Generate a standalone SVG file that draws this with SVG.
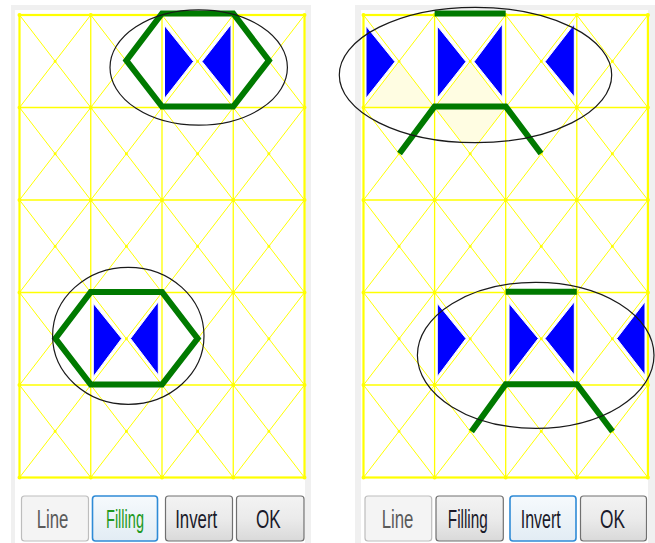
<svg xmlns="http://www.w3.org/2000/svg" xmlns:xlink="http://www.w3.org/1999/xlink" width="655" height="543" viewBox="0 0 655 543">
<style>
.frame{fill:#f0f0f0}
.inner{fill:#ffffff}
.grid{fill:none;stroke:#ffff00;stroke-width:1.3}
.diag{fill:none;stroke:#ffff00;stroke-width:1}
.border{fill:none;stroke:#ffff00;stroke-width:2.2}
.dotc{fill:none;stroke:#ffff00;stroke-width:4;stroke-linecap:round}
.dotm{fill:none;stroke:#ffff00;stroke-width:3;stroke-linecap:round}
.tri{fill:#0000ff;stroke:#ffffff;stroke-width:1}
.green{fill:none;stroke:#007a00;stroke-width:6;stroke-linejoin:miter}
.ell{fill:none;stroke:#1a1a1a;stroke-width:1.2}
.soft{fill:#fffde2}
.btn{fill:url(#gBtn);stroke:#707070;stroke-width:1.2}
.btnoff{fill:#f4f4f4;stroke:#bdbdbd;stroke-width:1.2}
.btnon{fill:url(#gOn);stroke:#2f8bd6;stroke-width:1.6}
.lbl{font-family:"Liberation Sans",Arial,sans-serif;font-size:25px;text-anchor:middle;fill:#1a1a2a}
.lbloff{fill:#5a5a5a}
.lblgreen{fill:#1f9a1f}
</style>
<defs>
<linearGradient id="gBtn" x1="0" y1="0" x2="0" y2="1">
<stop offset="0" stop-color="#f3f3f3"/><stop offset="0.5" stop-color="#ebebeb"/><stop offset="1" stop-color="#d9d9d9"/>
</linearGradient>
<linearGradient id="gOn" x1="0" y1="0" x2="0" y2="1">
<stop offset="0" stop-color="#f6fafd"/><stop offset="1" stop-color="#e2ecf4"/>
</linearGradient>
<clipPath id="clipRT"><ellipse cx="475.5" cy="75" rx="136.2" ry="67.7"/></clipPath>
<path id="diagL" class="diag" d="M19.5 15L90.75 107.5M90.75 15L19.5 107.5M90.75 15L162 107.5M162 15L90.75 107.5M162 15L233.25 107.5M233.25 15L162 107.5M233.25 15L304.5 107.5M304.5 15L233.25 107.5"/>
<path id="diagR" class="diag" d="M363.5 15L434.6 107.5M434.6 15L363.5 107.5M434.6 15L505.7 107.5M505.7 15L434.6 107.5M505.7 15L576.8 107.5M576.8 15L505.7 107.5M576.8 15L647.9 107.5M647.9 15L576.8 107.5"/>
<path id="dotsCL" class="dotc" d="M19.5 15h0M90.75 15h0M162 15h0M233.25 15h0M304.5 15h0"/>
<path id="dotsML" class="dotm" d="M55.1 61.25h0M126.4 61.25h0M197.6 61.25h0M268.9 61.25h0"/>
<path id="dotsCR" class="dotc" d="M363.5 15h0M434.6 15h0M505.7 15h0M576.8 15h0M647.9 15h0"/>
<path id="dotsMR" class="dotm" d="M399.05 61.25h0M470.15 61.25h0M541.25 61.25h0M612.35 61.25h0"/>
</defs>
<rect x="0" y="0" width="655" height="543" fill="#ffffff"/>

<g id="panel-left">
<rect class="frame" x="11" y="5" width="300" height="538"/>
<rect class="inner" x="15" y="10" width="290" height="533"/>
<g id="grid-left">
<path class="grid" d="M90.75 15V477.5M162 15V477.5M233.25 15V477.5M19.5 107.5H304.5M19.5 200H304.5M19.5 292.5H304.5M19.5 385H304.5"/>
<use href="#diagL"/>
<use href="#diagL" transform="translate(0,92.5)"/>
<use href="#diagL" transform="translate(0,185)"/>
<use href="#diagL" transform="translate(0,277.5)"/>
<use href="#diagL" transform="translate(0,370)"/>
<rect class="border" x="19.5" y="15" width="285" height="462.5"/>
<use href="#dotsCL"/>
<use href="#dotsCL" transform="translate(0,92.5)"/>
<use href="#dotsCL" transform="translate(0,185)"/>
<use href="#dotsCL" transform="translate(0,277.5)"/>
<use href="#dotsCL" transform="translate(0,370)"/>
<use href="#dotsCL" transform="translate(0,462.5)"/>
<use href="#dotsML"/>
<use href="#dotsML" transform="translate(0,92.5)"/>
<use href="#dotsML" transform="translate(0,185)"/>
<use href="#dotsML" transform="translate(0,277.5)"/>
<use href="#dotsML" transform="translate(0,370)"/>
</g>
<g id="shape-left-top">
<polygon class="tri" points="164.5,25.5 164.5,98.5 193.5,61.5"/>
<polygon class="tri" points="231,24.5 231,97.5 202,61.5"/>
<polygon class="green" points="162,13.5 233.25,13.5 268.9,60.5 233.25,106.5 162,106.5 126.4,60.5"/>
<ellipse class="ell" cx="198.7" cy="67.5" rx="88.7" ry="57.7"/>
</g>
<g id="shape-left-bottom">
<polygon class="tri" points="93.3,303.3 93.3,376.7 121.7,338.5"/>
<polygon class="tri" points="158.3,301.7 158.3,375 130.5,338.5"/>
<polygon class="green" points="90.75,292 162,292 197.6,338.5 162,384.5 90.75,384.5 55.4,338.5"/>
<ellipse class="ell" cx="128.3" cy="335.8" rx="75.7" ry="68.5"/>
</g>
<g id="buttons-left">
<g id="btn-left-line"><rect class="btnoff" x="21.5" y="496" width="67" height="45" rx="3"/><text class="lbl lbloff" x="52.5" y="528" textLength="31.7" lengthAdjust="spacingAndGlyphs">Line</text></g>
<g id="btn-left-filling"><rect class="btnon" x="92.5" y="496" width="65" height="45" rx="3"/><text class="lbl lblgreen" x="125" y="528" textLength="38" lengthAdjust="spacingAndGlyphs">Filling</text></g>
<g id="btn-left-invert"><rect class="btn" x="165.5" y="496" width="67" height="45" rx="3"/><text class="lbl" x="196.2" y="528" textLength="42" lengthAdjust="spacingAndGlyphs">Invert</text></g>
<g id="btn-left-ok"><rect class="btn" x="236.5" y="496" width="67.5" height="45" rx="3"/><text class="lbl" x="268.3" y="528" textLength="24.7" lengthAdjust="spacingAndGlyphs">OK</text></g>
</g>
</g>

<g id="panel-right">
<rect class="frame" x="355" y="5" width="300" height="538"/>
<rect class="inner" x="361" y="10" width="287" height="533"/>
<g id="soft-fill" clip-path="url(#clipRT)">
<polygon class="soft" points="399.05,61.25 363.5,107.5 434.6,107.5"/>
<polygon class="soft" points="470.15,61.25 434.6,107.5 505.7,107.5"/>
<polygon class="soft" points="434.6,107.5 505.7,107.5 470.15,153.75"/>
</g>
<g id="grid-right">
<path class="grid" d="M434.6 15V477.5M505.7 15V477.5M576.8 15V477.5M363.5 107.5H647.9M363.5 200H647.9M363.5 292.5H647.9M363.5 385H647.9"/>
<use href="#diagR"/>
<use href="#diagR" transform="translate(0,92.5)"/>
<use href="#diagR" transform="translate(0,185)"/>
<use href="#diagR" transform="translate(0,277.5)"/>
<use href="#diagR" transform="translate(0,370)"/>
<rect class="border" x="363.5" y="15" width="284.4" height="462.5"/>
<use href="#dotsCR"/>
<use href="#dotsCR" transform="translate(0,92.5)"/>
<use href="#dotsCR" transform="translate(0,185)"/>
<use href="#dotsCR" transform="translate(0,277.5)"/>
<use href="#dotsCR" transform="translate(0,370)"/>
<use href="#dotsCR" transform="translate(0,462.5)"/>
<use href="#dotsMR"/>
<use href="#dotsMR" transform="translate(0,92.5)"/>
<use href="#dotsMR" transform="translate(0,185)"/>
<use href="#dotsMR" transform="translate(0,277.5)"/>
<use href="#dotsMR" transform="translate(0,370)"/>
</g>
<g id="shape-right-top">
<polygon class="tri" points="366,26 366,98.3 395,61.7"/>
<polygon class="tri" points="437.3,26 437.3,98 466,61.7"/>
<polygon class="tri" points="502.3,24 502.3,97 474,61.7"/>
<polygon class="tri" points="574.3,24 574.3,97 545,61.7"/>
<path class="green" d="M434.6 13.5H505.7"/>
<path class="green" d="M399.5 153.5L434.6 106.5H505.7L541 153.5"/>
<ellipse class="ell" cx="475.5" cy="75" rx="136.2" ry="67.7"/>
</g>
<g id="shape-right-bottom">
<polygon class="tri" points="437.3,303.3 437.3,376.7 466,338.5"/>
<polygon class="tri" points="509,303.3 509,376.7 538.3,338.5"/>
<polygon class="tri" points="574.3,301.7 574.3,375 545,338.5"/>
<polygon class="tri" points="645,301.7 645,375 616.7,338.5"/>
<path class="green" d="M505.7 291.7H576.8"/>
<path class="green" d="M471.5 431.5L505.7 384.3H576.8L612.5 431.5"/>
<ellipse class="ell" cx="535.7" cy="355.3" rx="118.3" ry="73"/>
</g>
<g id="buttons-right">
<g id="btn-right-line"><rect class="btnoff" x="365" y="496" width="66.7" height="45" rx="3"/><text class="lbl lbloff" x="397.5" y="528" textLength="31.7" lengthAdjust="spacingAndGlyphs">Line</text></g>
<g id="btn-right-filling"><rect class="btn" x="436" y="496" width="67.3" height="45" rx="3"/><text class="lbl" x="467.8" y="528" textLength="40" lengthAdjust="spacingAndGlyphs">Filling</text></g>
<g id="btn-right-invert"><rect class="btnon" x="510" y="496" width="66" height="45" rx="3"/><text class="lbl" x="540.7" y="528" textLength="40" lengthAdjust="spacingAndGlyphs">Invert</text></g>
<g id="btn-right-ok"><rect class="btn" x="580.5" y="496" width="66" height="45" rx="3"/><text class="lbl" x="612.5" y="528" textLength="25" lengthAdjust="spacingAndGlyphs">OK</text></g>
</g>
</g>

<g id="connectors"></g>
</svg>
